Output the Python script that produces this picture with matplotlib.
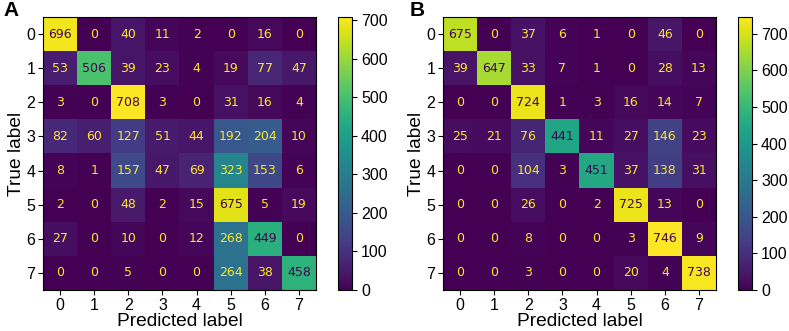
import numpy as np
import matplotlib
matplotlib.use("Agg")
import matplotlib.pyplot as plt

labels = [0, 1, 2, 3, 4, 5, 6, 7]

cm_a = [
    [696, 0, 40, 11, 2, 0, 16, 0],
    [53, 506, 39, 23, 4, 19, 77, 47],
    [3, 0, 708, 3, 0, 31, 16, 4],
    [82, 60, 127, 51, 44, 192, 204, 10],
    [8, 1, 157, 47, 69, 323, 153, 6],
    [2, 0, 48, 2, 15, 675, 5, 19],
    [27, 0, 10, 0, 12, 268, 449, 0],
    [0, 0, 5, 0, 0, 264, 38, 458],
]

cm_b = [
    [675, 0, 37, 6, 1, 0, 46, 0],
    [39, 647, 33, 7, 1, 0, 28, 13],
    [0, 0, 724, 1, 3, 16, 14, 7],
    [25, 21, 76, 441, 11, 27, 146, 23],
    [0, 0, 104, 3, 451, 37, 138, 31],
    [0, 0, 26, 0, 2, 725, 13, 0],
    [0, 0, 8, 0, 0, 3, 746, 9],
    [0, 0, 3, 0, 0, 20, 4, 738],
]

plt.rcParams['font.family'] = ['Liberation Sans', 'DejaVu Sans']

fig = plt.figure(figsize=(7.89, 3.31), dpi=100)
W, H = 789, 331


def panel(cm, ax_box, cb_box, letter, letter_x):
    cm = np.array(cm)
    ax = fig.add_axes([ax_box[0] / W, 1 - (ax_box[1] + ax_box[3]) / H, ax_box[2] / W, ax_box[3] / H])
    cax = fig.add_axes([cb_box[0] / W, 1 - (cb_box[1] + cb_box[3]) / H, cb_box[2] / W, cb_box[3] / H])
    cmap = plt.get_cmap('viridis')
    im = ax.imshow(cm, cmap=cmap, interpolation='nearest', aspect='auto')
    thresh = (cm.max() + cm.min()) / 2.0
    for i in range(cm.shape[0]):
        for j in range(cm.shape[1]):
            color = cmap(0.0) if cm[i, j] >= thresh else cmap(1.0)
            ax.text(j, i, str(cm[i, j]), ha='center', va='center', color=color,
                    fontsize=9, family='DejaVu Sans')
    ax.set_xticks(range(len(labels)))
    ax.set_yticks(range(len(labels)))
    ax.set_xticklabels(labels, fontsize=11.5)
    ax.set_yticklabels(labels, fontsize=11.5)
    ax.set_xlabel('Predicted label', fontsize=13.8, labelpad=0)
    ax.set_ylabel('True label', fontsize=13.8, labelpad=1)
    ax.tick_params(length=3.5, pad=2)
    cb = fig.colorbar(im, cax=cax)
    cb.set_ticks([0, 100, 200, 300, 400, 500, 600, 700])
    cb.ax.tick_params(labelsize=11.5, length=3.5, pad=3)
    cb.outline.set_linewidth(0.8)
    fig.text(letter_x / W, 1 - 11 / H, letter, fontsize=15, fontweight='bold', va='center', ha='left')
    return ax


panel(cm_a, (43, 17, 273, 273), (338, 17, 14, 273), 'A', 3)
panel(cm_b, (443, 17, 273, 273), (738, 17, 14, 273), 'B', 410)

fig.savefig('out.png', dpi=100)
